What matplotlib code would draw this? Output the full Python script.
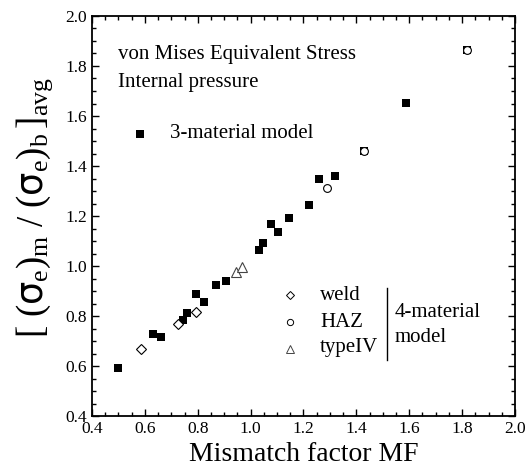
import numpy as np
import matplotlib
matplotlib.use('Agg')
import matplotlib.pyplot as plt
from matplotlib.ticker import MultipleLocator

plt.rcParams['font.family'] = ['Liberation Serif', 'DejaVu Serif']
plt.rcParams['mathtext.fontset'] = 'custom'
plt.rcParams['mathtext.rm'] = 'Liberation Serif'
plt.rcParams['mathtext.it'] = 'Liberation Serif:italic'
plt.rcParams['mathtext.sf'] = 'DejaVu Sans'

# 3-material model
mf3 = [0.50, 0.63, 0.661, 0.746, 0.759, 0.794, 0.822, 0.870, 0.905, 1.032,
       1.045, 1.077, 1.103, 1.147, 1.219, 1.259, 1.318, 1.429, 1.587, 1.817]
r3 = [0.591, 0.727, 0.715, 0.784, 0.811, 0.888, 0.856, 0.923, 0.940, 1.064,
      1.093, 1.169, 1.135, 1.193, 1.245, 1.347, 1.359, 1.46, 1.652, 1.864]

# 4-material model
mf_weld = [0.586, 0.725, 0.794]
r_weld = [0.669, 0.767, 0.817]
mf_haz = [1.289, 1.429, 1.817]
r_haz = [1.313, 1.46, 1.864]
mf_t4 = [0.943, 0.969]
r_t4 = [0.977, 0.995]

fig = plt.figure(figsize=(5.27, 4.76), dpi=100)
ax = fig.add_axes([0.1746, 0.126, 0.8026, 0.8404])

ax.plot(mf3, r3, 's', color='black', ms=6, mew=0)
ax.plot(mf_weld, r_weld, 'D', mfc='white', mec='black', ms=5, mew=0.8)
ax.plot(mf_haz, r_haz, 'o', mfc='white', mec='black', ms=5.6, mew=0.8)
ax.plot(mf_t4, r_t4, '^', mfc='white', mec='#444444', ms=7, mew=0.8)

ax.set_xlim(0.4, 2.0)
ax.set_ylim(0.4, 2.0)
ax.xaxis.set_major_locator(MultipleLocator(0.2))
ax.yaxis.set_major_locator(MultipleLocator(0.2))
ax.xaxis.set_minor_locator(MultipleLocator(0.05))
ax.yaxis.set_minor_locator(MultipleLocator(0.05))
ax.xaxis.set_major_formatter(plt.FormatStrFormatter('%.1f'))
ax.yaxis.set_major_formatter(plt.FormatStrFormatter('%.1f'))
ax.tick_params(which='both', direction='in', top=True, right=True, labelsize=12.5, width=1)
ax.tick_params(which='major', length=5)
ax.tick_params(which='minor', length=3)
for s in ax.spines.values():
    s.set_linewidth(1.3)

ax.set_xlabel('Mismatch factor MF', fontsize=20, labelpad=4)
ax.set_ylabel(r'$\mathrm{[\ (\mathsf{σ}_e)_m\ /\ (\mathsf{σ}_e)_b\,]_{avg}}$', fontsize=26.5)
ax.yaxis.set_label_coords(-0.088, 0.521)

ax.text(0.0615, 0.8925, 'von Mises Equivalent Stress', transform=ax.transAxes,
        fontsize=15, va='baseline')
ax.text(0.0615, 0.8225, 'Internal pressure', transform=ax.transAxes,
        fontsize=15, va='baseline')

# legend drawn by hand
ax.plot([0.1135], [0.705], 's', color='black', ms=6, mew=0, transform=ax.transAxes)
ax.text(0.184, 0.695, '3-material model', transform=ax.transAxes, fontsize=15, va='baseline')
ax.plot([0.468], [0.3025], 'D', mfc='white', mec='black', ms=4.5, mew=0.7, transform=ax.transAxes)
ax.plot([0.468], [0.235], 'o', mfc='white', mec='black', ms=4.5, mew=0.7, transform=ax.transAxes)
ax.plot([0.468], [0.1675], '^', mfc='white', mec='#444444', ms=6, mew=0.7, transform=ax.transAxes)
ax.text(0.539, 0.29, 'weld', transform=ax.transAxes, fontsize=15, va='baseline')
ax.text(0.539, 0.2225, 'HAZ', transform=ax.transAxes, fontsize=15, va='baseline')
ax.text(0.539, 0.16, 'typeIV', transform=ax.transAxes, fontsize=15, va='baseline')
ax.plot([0.6967, 0.6967], [0.14, 0.32], color='black', lw=1, transform=ax.transAxes)
ax.text(0.716, 0.2475, '4-material', transform=ax.transAxes, fontsize=15, va='baseline')
ax.text(0.716, 0.185, 'model', transform=ax.transAxes, fontsize=15, va='baseline')

fig.savefig('out.png', dpi=100)
